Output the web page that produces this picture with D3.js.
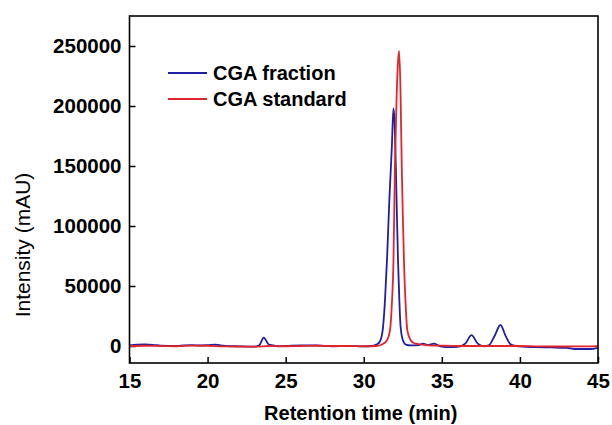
<!DOCTYPE html>
<html lang="en">
<head>
<meta charset="utf-8">
<title>CGA chromatogram</title>
<script src="https://d3js.org/d3.v7.min.js"></script>
<style>
  body { margin: 0; background: #fff; }
  svg text { font-family: "Liberation Sans", Arial, sans-serif; fill: #000; }
  .axis text { font-size: 20.5px; font-weight: bold; }
  .axis line { stroke: #000; stroke-width: 1.5; }
  .trace { fill: none; stroke-width: 1.8; stroke-linejoin: round; }
</style>
</head>
<body>
<script>
// Data (retention time in min, intensity in mAU)
const seriesNames = ["CGA fraction", "CGA standard"];
const seriesColors = ["#1f1fa3", "#e3242b"];

const fractionTime = [15.0, 15.5, 16.0, 16.5, 17.0, 18.0, 18.5, 19.0, 19.5, 20.0, 20.5, 21.0, 22.0, 23.0, 23.3, 23.6, 23.9, 24.2, 24.5, 25.0, 26.0, 27.0, 28.0, 29.0, 30.0, 30.5, 30.8, 31.0, 31.2, 31.36, 31.5, 31.64, 31.8, 31.9, 31.98, 32.06, 32.13, 32.2, 32.28, 32.36, 32.5, 32.7, 33.0, 33.5, 33.8, 34.1, 34.5, 34.8, 35.0, 35.5, 36.0, 36.5, 36.9, 37.3, 37.7, 38.0, 38.4, 38.75, 39.1, 39.4, 39.8, 40.0, 41.0, 42.0, 43.0, 43.5, 44.5, 45.0];
const fractionIntensity = [500, 1200, 1300, 1000, 300, 0, 600, 800, 400, 700, 1200, 200, -300, -600, 500, 7000, 1500, 600, -200, 0, 600, 500, -200, 0, -300, 0, 1200, 3000, 12000, 38000, 75000, 122000, 166000, 198000, 185000, 146700, 105000, 69000, 38000, 16000, 5000, 1200, 500, 800, 2000, 800, 2000, 300, -500, -1000, -700, 2000, 9000, 2000, -200, 500, 9000, 17500, 8000, 1500, 0, -300, -1000, -1200, -1500, -2500, -2500, -1500];

const standardTime = [15.0, 16.0, 17.0, 18.0, 19.0, 20.0, 21.0, 22.0, 23.0, 24.0, 25.0, 26.0, 27.0, 28.0, 29.0, 30.0, 30.8, 31.2, 31.5, 31.68, 31.8, 31.9, 32.0, 32.1, 32.2, 32.26, 32.35, 32.43, 32.5, 32.58, 32.7, 32.79, 33.0, 33.2, 33.5, 34.0, 35.0, 36.0, 37.0, 38.0, 39.0, 40.0, 41.0, 42.0, 43.0, 44.0, 45.0];
const standardIntensity = [0, 200, 0, -200, 300, 200, -300, -400, -500, 0, -200, 0, 200, 0, 0, -200, 0, 1500, 5000, 13000, 35000, 69000, 152000, 205000, 238000, 246000, 215000, 152000, 110000, 69000, 30000, 13000, 5000, 2500, 1500, 800, 300, 0, 0, 0, 0, 0, -300, -400, -400, -300, -200];

const xTicks = [15, 20, 25, 30, 35, 40, 45];
const yTicks = [0, 50000, 100000, 150000, 200000, 250000];

const w = 612, h = 425;
const plotLeft = 129.5, plotRight = 598, plotTop = 16, plotBottom = 363;

const svg = d3.select("body").append("svg")
  .attr("width", w)
  .attr("height", h);

const xScale = d3.scaleLinear().domain([15, 45]).range([plotLeft, plotRight]);
const yScale = d3.scaleLinear().domain([-14167, 275000]).range([plotBottom, plotTop]);

// axes, ticks pointing inward
const bottomAxis = d3.axisBottom(xScale)
  .tickValues(xTicks)
  .tickFormat(d3.format("d"))
  .tickSizeInner(-6).tickSizeOuter(0).tickPadding(10);
svg.append("g").attr("class", "axis")
  .attr("transform", "translate(0," + plotBottom + ")")
  .call(bottomAxis)
  .call(g => g.select(".domain").remove());

const leftAxis = d3.axisLeft(yScale)
  .tickValues(yTicks)
  .tickFormat(d3.format("d"))
  .tickSizeInner(-6).tickSizeOuter(0).tickPadding(8);
svg.append("g").attr("class", "axis")
  .attr("transform", "translate(" + plotLeft + ",0)")
  .call(leftAxis)
  .call(g => g.select(".domain").remove());

// traces
const line = d3.line()
  .x(d => xScale(d[0]))
  .y(d => yScale(d[1]))
  .curve(d3.curveMonotoneX);

const traces = [
  d3.zip(fractionTime, fractionIntensity),
  d3.zip(standardTime, standardIntensity)
];
traces.forEach((pts, i) => {
  svg.append("path")
    .attr("class", "trace")
    .attr("stroke", seriesColors[i])
    .attr("d", line(pts));
});

// frame
svg.append("rect")
  .attr("x", plotLeft).attr("y", plotTop)
  .attr("width", plotRight - plotLeft).attr("height", plotBottom - plotTop)
  .attr("fill", "none").attr("stroke", "#000").attr("stroke-width", 1.6);

// legend
const legend = svg.append("g").attr("transform", "translate(168,73)");
seriesNames.forEach((name, i) => {
  const row = legend.append("g").attr("transform", "translate(0," + i * 26 + ")");
  row.append("line")
    .attr("x1", 0).attr("x2", 39)
    .attr("stroke", seriesColors[i]).attr("stroke-width", 1.8);
  row.append("text")
    .attr("x", 45).attr("y", 7)
    .style("font-size", "20px").style("font-weight", "bold")
    .text(name);
});

// axis titles
svg.append("text")
  .attr("x", (plotLeft + plotRight) / 2 - 3).attr("y", 420)
  .attr("text-anchor", "middle")
  .style("font-size", "20px").style("font-weight", "bold")
  .text("Retention time (min)");

svg.append("text")
  .attr("transform", "translate(30,245) rotate(-90)")
  .attr("text-anchor", "middle")
  .style("font-size", "21px")
  .text("Intensity (mAU)");
</script>
</body>
</html>
